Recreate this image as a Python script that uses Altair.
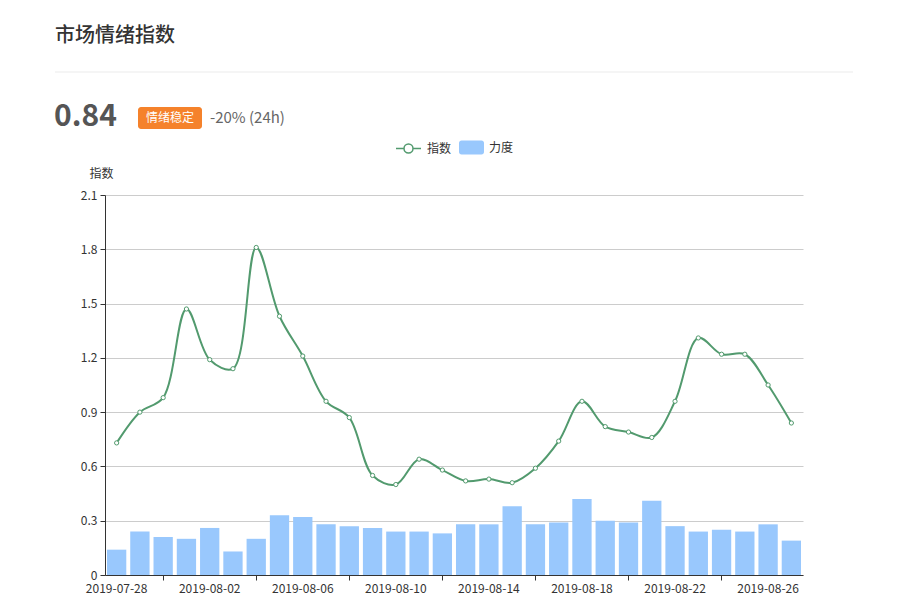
import altair as alt
import pandas as pd

# ---------------- data ----------------
dates = ["2019-07-28", "2019-07-29", "2019-07-30", "2019-08-01", "2019-08-02",
         "2019-08-03", "2019-08-04", "2019-08-05", "2019-08-06", "2019-08-07",
         "2019-08-08", "2019-08-09", "2019-08-10", "2019-08-11", "2019-08-12",
         "2019-08-13", "2019-08-14", "2019-08-15", "2019-08-16", "2019-08-17",
         "2019-08-18", "2019-08-19", "2019-08-20", "2019-08-21", "2019-08-22",
         "2019-08-23", "2019-08-24", "2019-08-25", "2019-08-26", "2019-08-27"]
index_vals = [0.73, 0.90, 0.98, 1.47, 1.19, 1.14, 1.81, 1.43, 1.21, 0.96,
              0.87, 0.55, 0.50, 0.64, 0.58, 0.52, 0.53, 0.51, 0.59, 0.74,
              0.96, 0.82, 0.79, 0.76, 0.96, 1.31, 1.22, 1.22, 1.05, 0.84]
force_vals = [0.14, 0.24, 0.21, 0.20, 0.26, 0.13, 0.20, 0.33, 0.32, 0.28,
              0.27, 0.26, 0.24, 0.24, 0.23, 0.28, 0.28, 0.38, 0.28, 0.29,
              0.42, 0.30, 0.29, 0.41, 0.27, 0.24, 0.25, 0.24, 0.28, 0.19]
y_ticks = [0, 0.3, 0.6, 0.9, 1.2, 1.5, 1.8, 2.1]
label_dates = dates[0::4]
tick_dates = dates[2::4]
series_names = ["指数", "力度"]

title_text = "市场情绪指数"
value_text = "0.84"
badge_text = "情绪稳定"
change_text = "-20% (24h)"

# ---------------- styles ----------------
FONT = "Noto Sans CJK SC"
GREEN = "#529a6e"
BLUE = "#99c8fd"
ORANGE = "#f5822b"

df = pd.DataFrame({
    "date": dates,
    "idx": index_vals,
    "force": force_vals,
    "s_idx": series_names[0],
    "s_force": series_names[1],
})

line_icon = ("M-1,0H-0.36M0.36,0H1M0.36,0A0.36,0.36,0,1,1,-0.36,0"
             "A0.36,0.36,0,1,1,0.36,0Z")
rect_icon = ("M-0.8,-0.56H0.8A0.2,0.2,0,0,1,1,-0.36V0.36A0.2,0.2,0,0,1,0.8,0.56"
             "H-0.8A0.2,0.2,0,0,1,-1,0.36V-0.36A0.2,0.2,0,0,1,-0.8,-0.56Z")

common_legend = dict(
    title=None, orient="none", direction="horizontal", padding=0,
    symbolSize=625, labelOffset=5, labelFont=FONT, labelFontSize=12,
    labelColor="#333", symbolOpacity=1,
)
legend_idx = alt.Legend(
    legendX=290, legendY=-60, symbolType=line_icon, symbolFillColor="#ffffff",
    symbolStrokeColor=GREEN, symbolStrokeWidth=1.5, **common_legend
)
legend_force = alt.Legend(
    legendX=354, legendY=-60, symbolType=rect_icon, symbolStrokeWidth=0,
    **common_legend
)

y_axis = alt.Axis(
    values=y_ticks, format=".1~f", title="指数", titleAngle=0, titleX=-4, titleY=-22,
    titleAlign="center", titleBaseline="middle", titleFont=FONT, titleFontSize=12,
    titleFontWeight="normal", titleColor="#333",
    labelFont=FONT, labelFontSize=12, labelColor="#333", labelPadding=3,
    domainColor="#333", tickColor="#333", tickSize=5,
    grid=True, gridColor="#cccccc",
)
y_scale = alt.Scale(domain=[0, 2.1], nice=False)
x_scale = alt.Scale(paddingInner=0.17, paddingOuter=0.085)

x_label_axis = alt.Axis(
    values=label_dates, title=None, labelAngle=0, ticks=False, tickSize=0,
    domain=False, grid=False, labelPadding=8, labelFont=FONT, labelFontSize=12,
    labelColor="#333", orient="bottom",
)
x_tick_axis = alt.Axis(
    values=tick_dates, title=None, labels=False, ticks=True, tickSize=5,
    tickColor="#333", domain=True, domainColor="#333", grid=False, orient="bottom",
)

bars = alt.Chart(df).mark_bar(opacity=1).encode(
    x=alt.X("date:N", sort=dates, scale=x_scale, axis=x_label_axis),
    y=alt.Y("force:Q", scale=y_scale, axis=y_axis),
    color=alt.Color("s_force:N", scale=alt.Scale(domain=[series_names[1]], range=[BLUE]),
                    legend=legend_force),
)

line = alt.Chart(df).mark_line(interpolate="catmull-rom", strokeWidth=2).encode(
    x=alt.X("date:N", sort=dates, scale=x_scale, axis=x_tick_axis),
    y=alt.Y("idx:Q", scale=y_scale, axis=y_axis),
    color=alt.Color("s_idx:N", scale=alt.Scale(domain=[series_names[0]], range=[GREEN]),
                    legend=legend_idx),
)

points = alt.Chart(df).mark_point(
    filled=True, fill="#ffffff", stroke=GREEN, strokeWidth=1, size=18, opacity=1
).encode(
    x=alt.X("date:N", sort=dates, scale=x_scale, axis=None),
    y=alt.Y("idx:Q", scale=y_scale, axis=y_axis),
)

def one(text):
    return pd.DataFrame({"t": [text]})

title_layer = alt.Chart(one(title_text)).mark_text(
    align="left", baseline="alphabetic", font=FONT, fontSize=20, fontWeight=500,
    color="#333"
).encode(x=alt.value(-50), y=alt.value(-153), text="t:N")

divider = alt.Chart(one("")).mark_rule(color="#ebebeb", strokeWidth=1).encode(
    x=alt.value(-50), x2=alt.value(748), y=alt.value(-123)
)

big_value = alt.Chart(one(value_text)).mark_text(
    align="left", baseline="alphabetic", font=FONT, fontSize=30, fontWeight="bold",
    color="#555"
).encode(x=alt.value(-51), y=alt.value(-69), text="t:N")

badge = alt.Chart(one("")).mark_rect(color=ORANGE, cornerRadius=3).encode(
    x=alt.value(33), x2=alt.value(97), y=alt.value(-88), y2=alt.value(-66)
)

badge_label = alt.Chart(one(badge_text)).mark_text(
    align="center", baseline="middle", font=FONT, fontSize=12, color="#ffffff"
).encode(x=alt.value(65), y=alt.value(-77), text="t:N")

change_label = alt.Chart(one(change_text)).mark_text(
    align="left", baseline="middle", font=FONT, fontSize=15, color="#666"
).encode(x=alt.value(105), y=alt.value(-77), text="t:N")

chart = alt.layer(
    bars, line, points, title_layer, divider, big_value, badge, badge_label, change_label
).resolve_scale(x="shared", y="shared", color="independent").resolve_axis(
    x="independent"
).resolve_legend(color="independent").properties(
    width=698, height=380,
    autosize=alt.AutoSizeParams(type="none"),
    padding={"left": 97, "top": 187, "right": 90, "bottom": 31},
    background="#ffffff",
).configure_view(stroke=None)

chart.save("out.html", embed_options={"renderer": "svg", "actions": False})
